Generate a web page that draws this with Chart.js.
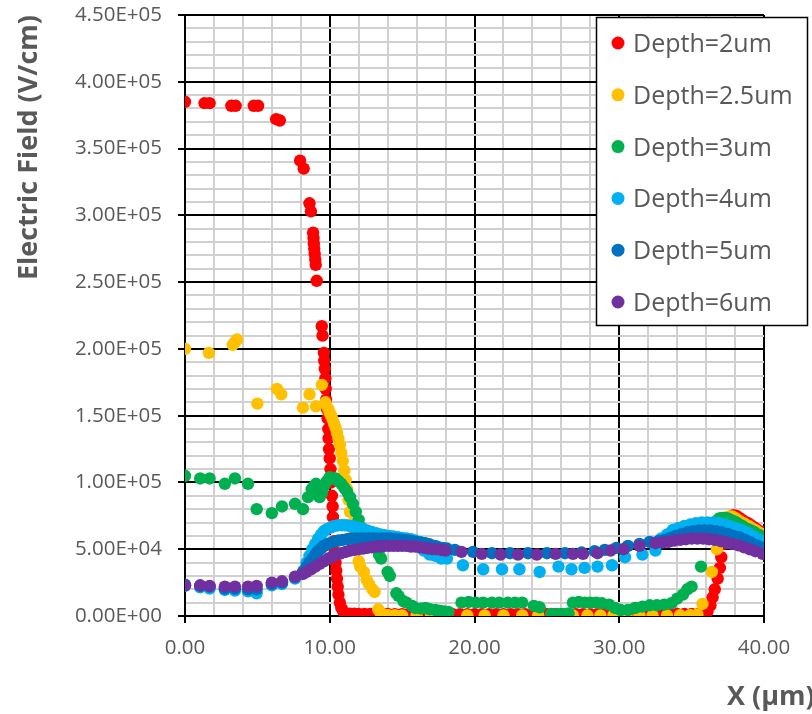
<!DOCTYPE html>
<html>
<head>
  <title>Electric Field vs X</title>
  <script src="https://cdn.jsdelivr.net/npm/chart.js"></script>
  <style>
    body { margin: 0; background: #fff; }
    #wrap { width: 812px; height: 714px; }
  </style>
</head>
<body>
  <div id="wrap"><canvas id="fieldChart" width="812" height="714"></canvas></div>

  <script>
    // [x (um), E (V/cm)]
    const depth2 = [
      [0, 3.85e5], [1.35, 3.84e5], [1.7, 3.84e5], [3.2, 3.82e5], [3.5, 3.82e5], [4.75, 3.82e5], [5.05, 3.82e5],
      [6.3, 3.72e5], [6.55, 3.71e5], [7.95, 3.41e5], [8.2, 3.35e5], [8.6, 3.09e5], [8.7, 3.03e5],
      [8.85, 2.87e5], [8.88, 2.83e5], [8.9, 2.79e5], [8.93, 2.75e5], [8.96, 2.71e5], [9.0, 2.67e5], [9.03, 2.63e5],
      [9.1, 2.51e5], [9.45, 2.17e5], [9.5, 2.1e5], [9.6, 1.97e5], [9.62, 1.91e5], [9.66, 1.85e5], [9.7, 1.78e5],
      [9.72, 1.7e5], [9.75, 1.62e5], [9.8, 1.55e5], [9.85, 1.48e5], [9.9, 1.4e5], [9.92, 1.33e5], [9.95, 1.25e5],
      [10.0, 1.18e5], [10.05, 1.1e5], [10.1, 1.0e5], [10.15, 0.9e5], [10.2, 0.82e5], [10.22, 0.74e5], [10.3, 0.56e5],
      [10.35, 0.48e5], [10.4, 0.4e5], [10.45, 0.34e5], [10.5, 0.28e5], [10.55, 0.22e5], [10.6, 0.16e5], [10.7, 1.0e4],
      [10.8, 6000], [10.95, 3000], [11.1, 1800], [11.4, 1700], [11.7, 1700], [12.0, 1600], [12.4, 1600], [12.8, 1500],
      [13.2, 1500], [13.6, 1500], [14.0, 1500], [14.5, 1400], [15.0, 1400], [15.5, 1400], [16.0, 1400], [16.5, 1400],
      [17.0, 1400], [17.5, 1300], [18.0, 1300], [18.5, 1300], [19.0, 1300], [19.5, 1300], [20.0, 1300], [20.5, 1300],
      [21.0, 1300], [21.5, 1300], [22.0, 1300], [22.5, 1300], [23.0, 1300], [23.5, 1300], [24.0, 1300], [24.5, 1300],
      [25.0, 1300], [25.5, 1300], [26.0, 1300], [26.5, 1300], [27.0, 1300], [27.5, 1300], [28.0, 1300], [28.5, 1300],
      [29.0, 1300], [29.5, 1300], [30.0, 1300], [30.5, 1300], [31.0, 1300], [31.5, 1300], [32.0, 1400], [32.5, 1400],
      [33.0, 1400], [33.5, 1400], [34.0, 1500], [34.5, 1500], [35.0, 1600], [35.5, 1800], [35.9, 2200], [36.1, 3500],
      [36.3, 8000], [36.45, 1.4e4], [36.6, 2.0e4], [36.8, 2.8e4], [36.95, 3.6e4], [37.05, 4.4e4], [37.2, 5.4e4],
      [37.35, 6.4e4], [37.5, 7.1e4], [37.7, 7.45e4], [37.9, 7.55e4], [38.1, 7.5e4], [38.3, 7.35e4], [38.5, 7.2e4],
      [38.7, 7.05e4], [38.9, 6.95e4], [39.1, 6.8e4], [39.3, 6.65e4], [39.5, 6.5e4], [39.7, 6.35e4], [39.9, 6.2e4], [40.05, 6.1e4]
    ];
    const depth25 = [
      [0, 2.0e5], [1.65, 1.97e5], [3.3, 2.03e5], [3.45, 2.05e5], [3.6, 2.07e5], [5.0, 1.59e5], [6.35, 1.7e5], [6.65, 1.66e5],
      [8.15, 1.56e5], [8.6, 1.66e5], [9.05, 1.57e5], [9.45, 1.73e5], [9.7, 1.6e5], [9.9, 1.55e5], [10.0, 1.52e5],
      [10.1, 1.5e5], [10.2, 1.47e5], [10.3, 1.44e5], [10.4, 1.41e5], [10.5, 1.37e5], [10.6, 1.33e5], [10.7, 1.28e5],
      [10.8, 1.22e5], [10.9, 1.16e5], [11.0, 1.09e5], [11.1, 1.02e5], [11.2, 0.95e5], [11.3, 0.87e5], [11.4, 0.78e5],
      [11.5, 0.69e5], [11.6, 0.6e5], [11.75, 0.5e5], [12.0, 0.41e5], [12.1, 0.37e5], [12.35, 0.33e5], [12.55, 0.27e5],
      [12.7, 0.24e5], [12.95, 0.2e5], [13.1, 0.18e5], [13.35, 5000], [13.5, 2500], [14.0, 800], [14.5, 600], [15.0, 500],
      [16.0, 500], [17.0, 500], [18.1, 500], [19.5, 500], [20.7, 500], [22.0, 500], [23.3, 500], [24.4, 500], [25.7, 500],
      [26.8, 500], [27.8, 500], [28.7, 500], [29.6, 500], [30.5, 500], [31.4, 500], [32.3, 500], [33.3, 500], [34.2, 600],
      [34.9, 700], [35.4, 1200], [35.75, 9000], [36.4, 3.3e4], [36.75, 5.0e4], [36.9, 6.2e4], [37.05, 6.9e4], [37.2, 7.25e4],
      [37.4, 7.4e4], [37.6, 7.45e4], [37.8, 7.45e4], [38.0, 7.35e4], [38.2, 7.2e4], [38.4, 7.05e4], [38.6, 6.95e4],
      [38.8, 6.8e4], [39.0, 6.7e4], [39.2, 6.55e4], [39.4, 6.45e4], [39.6, 6.3e4], [39.8, 6.15e4], [39.95, 6.05e4]
    ];
    const depth3 = [
      [0, 1.05e5], [1.05, 1.03e5], [1.7, 1.03e5], [2.75, 0.99e5], [3.45, 1.03e5], [4.35, 0.99e5], [4.95, 0.8e5], [6.0, 0.77e5],
      [6.7, 0.82e5], [7.6, 0.84e5], [8.15, 0.8e5], [8.5, 0.89e5], [8.75, 0.95e5], [8.9, 0.97e5], [9.05, 0.99e5], [9.3, 0.89e5],
      [9.45, 0.92e5], [9.6, 0.97e5], [9.8, 1.01e5], [10.0, 1.04e5], [10.2, 1.03e5], [10.4, 1.03e5], [10.6, 1.01e5],
      [10.8, 0.99e5], [11.0, 0.96e5], [11.2, 0.93e5], [11.4, 0.89e5], [11.6, 0.84e5], [11.8, 0.78e5], [12.0, 0.72e5],
      [12.2, 0.66e5], [12.4, 0.61e5], [12.6, 0.57e5], [12.8, 0.54e5], [13.0, 0.52e5], [13.4, 0.46e5], [13.55, 0.43e5],
      [14.0, 0.33e5], [14.15, 0.3e5], [14.6, 0.17e5], [14.75, 0.15e5], [15.1, 1.1e4], [15.3, 1.0e4], [15.7, 7500],
      [15.9, 6000], [16.3, 5500], [16.6, 6000], [16.9, 5000], [17.3, 4500], [17.6, 4000], [17.9, 3500], [18.2, 3000],
      [19.1, 1.0e4], [19.6, 1.05e4], [20.1, 1.0e4], [20.6, 1.0e4], [21.2, 1.0e4], [21.7, 1.0e4], [22.3, 1.0e4], [22.8, 1.0e4],
      [23.3, 1.0e4], [24.1, 7500], [24.5, 6500], [25.3, 1500], [25.7, 1500], [26.1, 1500], [26.5, 2000], [26.8, 1.0e4],
      [27.2, 1.05e4], [27.6, 1.0e4], [28.0, 1.0e4], [28.4, 1.0e4], [28.8, 9500], [29.3, 8500], [29.7, 6000], [30.1, 4500],
      [30.6, 4500], [31.1, 6000], [31.6, 7000], [32.1, 8000], [32.6, 8000], [33.1, 8500], [33.6, 9500], [34.0, 1.3e4],
      [34.4, 1.6e4], [34.7, 2.0e4], [35.0, 2.2e4], [35.65, 3.7e4], [36.1, 5.8e4], [36.3, 6.4e4], [36.5, 6.8e4], [36.7, 7.1e4],
      [36.9, 7.3e4], [37.1, 7.35e4], [37.3, 7.35e4], [37.5, 7.3e4], [37.7, 7.2e4], [37.9, 7.1e4], [38.1, 7.0e4], [38.3, 6.85e4],
      [38.5, 6.75e4], [38.7, 6.6e4], [38.9, 6.5e4], [39.1, 6.4e4], [39.3, 6.3e4], [39.5, 6.15e4], [39.7, 6.05e4], [39.95, 5.9e4]
    ];
    const depth4 = [
      [0, 2.25e4], [1.05, 2.15e4], [1.7, 2.05e4], [2.75, 1.95e4], [3.45, 1.9e4], [4.35, 1.85e4], [4.95, 1.7e4], [6.0, 2.3e4],
      [6.7, 2.4e4], [7.6, 2.8e4], [8.2, 3.4e4], [8.4, 4.0e4], [8.6, 4.5e4], [8.8, 5.0e4], [9.0, 5.4e4], [9.2, 5.8e4],
      [9.4, 6.1e4], [9.6, 6.35e4], [9.8, 6.5e4], [10.0, 6.6e4], [10.2, 6.7e4], [10.4, 6.75e4], [10.6, 6.8e4], [10.8, 6.8e4],
      [11.0, 6.8e4], [11.2, 6.78e4], [11.4, 6.75e4], [11.6, 6.7e4], [11.8, 6.65e4], [12.0, 6.6e4], [12.3, 6.5e4], [12.6, 6.4e4],
      [12.9, 6.3e4], [13.2, 6.2e4], [13.5, 6.1e4], [13.8, 6.05e4], [14.1, 6.0e4], [14.4, 5.95e4], [14.7, 5.9e4], [15.0, 5.85e4],
      [15.3, 5.8e4], [15.6, 5.75e4], [15.9, 5.65e4], [16.2, 5.55e4], [16.5, 5.45e4], [16.9, 5.35e4], [17.3, 5.25e4],
      [16.5, 4.9e4], [16.9, 4.6e4], [17.3, 4.5e4], [17.7, 4.3e4], [18.1, 4.3e4], [19.2, 3.8e4], [20.6, 3.5e4], [21.9, 3.5e4],
      [23.1, 3.5e4], [24.5, 3.3e4], [25.8, 3.7e4], [26.7, 3.5e4], [27.6, 3.6e4], [28.5, 3.7e4], [29.5, 3.8e4], [30.4, 4.4e4],
      [31.6, 4.6e4], [32.5, 4.9e4], [32.9, 5.8e4], [33.3, 6.1e4], [33.7, 6.45e4], [34.1, 6.6e4], [34.5, 6.75e4], [34.9, 6.85e4],
      [35.3, 6.95e4], [35.7, 7.0e4], [36.1, 7.0e4], [36.5, 7.0e4], [36.9, 6.95e4], [37.3, 6.85e4], [37.7, 6.7e4], [38.1, 6.55e4],
      [38.5, 6.4e4], [38.9, 6.2e4], [39.3, 5.95e4], [39.7, 5.7e4], [39.95, 5.55e4]
    ];
    const depth5 = [
      [0, 2.35e4], [1.05, 2.25e4], [1.7, 2.2e4], [2.75, 2.05e4], [3.45, 2.05e4], [4.35, 2.0e4], [4.95, 2.0e4], [6.0, 2.4e4],
      [6.7, 2.5e4], [7.6, 2.9e4], [8.15, 3.3e4], [8.4, 3.7e4], [8.6, 4.0e4], [8.8, 4.3e4], [9.0, 4.6e4], [9.2, 4.85e4],
      [9.4, 5.05e4], [9.6, 5.25e4], [9.8, 5.35e4], [10.0, 5.45e4], [10.3, 5.55e4], [10.6, 5.65e4], [10.9, 5.7e4], [11.2, 5.75e4],
      [11.5, 5.8e4], [11.8, 5.8e4], [12.1, 5.8e4], [12.4, 5.8e4], [12.7, 5.8e4], [13.0, 5.8e4], [13.3, 5.8e4], [13.6, 5.8e4],
      [13.9, 5.8e4], [14.2, 5.8e4], [14.5, 5.75e4], [14.8, 5.75e4], [15.1, 5.7e4], [15.4, 5.65e4], [15.7, 5.6e4], [16.0, 5.55e4],
      [16.3, 5.5e4], [16.6, 5.45e4], [16.9, 5.35e4], [17.2, 5.25e4], [17.5, 5.15e4], [17.8, 5.1e4], [18.1, 5.05e4],
      [18.65, 4.95e4], [19.9, 4.8e4], [21.2, 4.7e4], [22.45, 4.7e4], [23.7, 4.7e4], [25.0, 4.7e4], [26.25, 4.7e4], [27.4, 4.75e4],
      [28.3, 4.85e4], [29.0, 4.95e4], [29.8, 5.1e4], [30.6, 5.25e4], [31.4, 5.4e4], [32.1, 5.55e4], [32.7, 5.6e4], [33.1, 5.7e4],
      [33.5, 5.85e4], [33.9, 6.0e4], [34.3, 6.15e4], [34.7, 6.25e4], [35.1, 6.35e4], [35.5, 6.4e4], [35.9, 6.4e4], [36.3, 6.4e4],
      [36.7, 6.35e4], [37.1, 6.25e4], [37.5, 6.15e4], [37.9, 6.0e4], [38.3, 5.9e4], [38.7, 5.7e4], [39.1, 5.5e4], [39.5, 5.3e4],
      [39.95, 5.1e4]
    ];
    const depth6 = [
      [0, 2.3e4], [1.05, 2.3e4], [1.7, 2.25e4], [2.75, 2.2e4], [3.45, 2.2e4], [4.35, 2.2e4], [4.95, 2.25e4], [6.0, 2.5e4],
      [6.7, 2.6e4], [7.6, 2.95e4], [8.15, 3.15e4], [8.4, 3.3e4], [8.7, 3.5e4], [9.0, 3.7e4], [9.3, 3.9e4], [9.6, 4.1e4],
      [9.9, 4.3e4], [10.2, 4.45e4], [10.5, 4.6e4], [10.8, 4.7e4], [11.1, 4.8e4], [11.4, 4.9e4], [11.7, 4.95e4], [12.0, 5.0e4],
      [12.3, 5.05e4], [12.6, 5.1e4], [12.9, 5.15e4], [13.2, 5.2e4], [13.5, 5.2e4], [13.8, 5.25e4], [14.1, 5.25e4], [14.4, 5.25e4],
      [14.7, 5.25e4], [15.0, 5.25e4], [15.3, 5.25e4], [15.6, 5.2e4], [15.9, 5.2e4], [16.2, 5.15e4], [16.5, 5.1e4], [16.8, 5.05e4],
      [17.1, 5.0e4], [17.4, 5.0e4], [17.7, 4.95e4], [18.0, 4.9e4], [19.1, 4.8e4], [20.5, 4.65e4], [21.8, 4.6e4], [23.0, 4.6e4],
      [24.3, 4.6e4], [25.6, 4.65e4], [26.8, 4.65e4], [27.5, 4.65e4], [28.5, 4.7e4], [29.4, 4.9e4], [30.3, 5.0e4], [31.4, 5.25e4],
      [32.5, 5.45e4], [33.0, 5.5e4], [33.4, 5.55e4], [33.8, 5.65e4], [34.2, 5.7e4], [34.6, 5.75e4], [35.0, 5.8e4], [35.4, 5.8e4],
      [35.8, 5.8e4], [36.2, 5.75e4], [36.6, 5.7e4], [37.0, 5.6e4], [37.4, 5.5e4], [37.8, 5.4e4], [38.2, 5.3e4], [38.6, 5.15e4],
      [39.0, 5.0e4], [39.4, 4.85e4], [39.9, 4.65e4]
    ];

    const seriesLabels = ['Depth=2um', 'Depth=2.5um', 'Depth=3um', 'Depth=4um', 'Depth=5um', 'Depth=6um'];
    const seriesData = [depth2, depth25, depth3, depth4, depth5, depth6];
    const seriesColors = ['#FF0000', '#FFC000', '#00B050', '#00B0F0', '#0070C0', '#7030A0'];

    const GREY = '#595959';
    Chart.defaults.font.family = '"Open Sans", sans-serif';

    function sci(v) {
      if (v === 0) return '0.00E+00';
      const e = Math.floor(Math.log10(v));
      return (v / Math.pow(10, e)).toFixed(2) + 'E+' + String(e).padStart(2, '0');
    }

    // legend box and X axis title, drawn over the plot like the original
    const overlay = {
      id: 'overlay',
      afterDraw(chart) {
        const ctx = chart.ctx;
        ctx.save();
        ctx.fillStyle = '#fff';
        ctx.fillRect(596.5, 17.5, 211, 308);
        ctx.strokeStyle = '#000';
        ctx.lineWidth = 1.5;
        ctx.strokeRect(596.5, 17.5, 211, 308);
        ctx.font = '25px "Open Sans"';
        ctx.textBaseline = 'alphabetic';
        chart.data.datasets.forEach((ds, i) => {
          const y = 43 + i * 51.8;
          ctx.fillStyle = ds.backgroundColor;
          ctx.beginPath();
          ctx.arc(618, y, 6.5, 0, Math.PI * 2);
          ctx.fill();
          ctx.fillStyle = GREY;
          ctx.fillText(ds.label, 633, y + 9);
        });
        ctx.font = 'bold 27px "Open Sans"';
        ctx.fillStyle = GREY;
        ctx.fillText('X (µm)', 727, 705);
        ctx.restore();
      }
    };

    // fixed box sizes so the plot area lands where the original has it
    function fitY(s) { s.width = 185; s.paddingTop = 0; s.paddingBottom = 0; }
    function fitX(s) { s.height = 98; s.paddingLeft = 0; s.paddingRight = 0; }

    new Chart(document.getElementById('fieldChart'), {
      type: 'scatter',
      data: {
        datasets: seriesData.map((pts, i) => ({
          label: seriesLabels[i],
          data: pts.map(([x, y]) => ({ x, y })),
          backgroundColor: seriesColors[i],
          borderColor: seriesColors[i],
          pointRadius: 6.2,
          pointHoverRadius: 6.2,
          pointBorderWidth: 0,
          order: seriesData.length - i
        }))
      },
      options: {
        responsive: false,
        animation: false,
        events: [],
        layout: { padding: { top: 15, right: 48, left: 0, bottom: 0 } },
        plugins: { legend: { display: false }, tooltip: { enabled: false } },
        scales: {
          x: {
            type: 'linear', min: 0, max: 40,
            afterFit: fitX,
            ticks: {
              stepSize: 2, autoSkip: false, maxRotation: 0, padding: 13,
              color: GREY, font: { size: 20.5 },
              callback: v => (v % 10 === 0 ? v.toFixed(2) : '')
            },
            grid: {
              lineWidth: 2, tickLength: 7,
              color: c => (c.tick && c.tick.value % 10 === 0 ? '#000' : '#d0d0d0'),
              tickColor: c => (c.tick && c.tick.value % 10 === 0 ? '#000' : 'rgba(0,0,0,0)')
            },
            border: { color: '#000', width: 2 }
          },
          y: {
            type: 'linear', min: 0, max: 4.5e5,
            afterFit: fitY,
            title: {
              display: true, text: 'Electric Field (V/cm)', align: 'end', color: GREY,
              font: { size: 27, weight: 'bold' }, padding: { top: 13, bottom: 0 }
            },
            ticks: {
              stepSize: 1e4, autoSkip: false, padding: 16,
              color: GREY, font: { size: 20.5 },
              callback: v => (v % 5e4 === 0 ? sci(v) : '')
            },
            grid: {
              lineWidth: 2, tickLength: 7,
              color: c => (c.tick && c.tick.value % 5e4 === 0 ? '#000' : '#d0d0d0'),
              tickColor: c => (c.tick && c.tick.value % 5e4 === 0 ? '#000' : 'rgba(0,0,0,0)')
            },
            border: { color: '#000', width: 2 }
          }
        }
      },
      plugins: [overlay]
    });
  </script>
</body>
</html>
